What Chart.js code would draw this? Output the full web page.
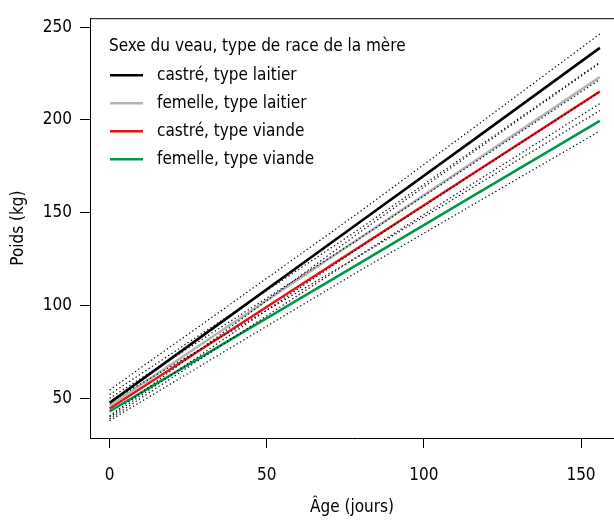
<!DOCTYPE html>
<html>
<head>
<meta charset="utf-8">
<script src="https://cdn.jsdelivr.net/npm/chart.js@4"></script>
<style>
html, body { margin: 0; padding: 0; background: #fff; }
#wrap { width: 614px; height: 520px; }
</style>
</head>
<body>
<div id="wrap"><canvas id="chart"></canvas></div>
<script>
// ages (days) at which the fitted lines and their bands are read
const ages = [0, 39, 78, 117, 156];

// castré, type laitier
const castreLaitier = [47.5, 95.2, 143.0, 190.7, 238.8];
const castreLaitierHi = [54.5, 101.4, 148.5, 197.2, 246.3];
const castreLaitierLo = [40.5, 89.0, 137.5, 184.2, 230.7];

// femelle, type laitier
const femelleLaitier = [46.0, 90.3, 134.5, 178.8, 223.1];
const femelleLaitierHi = [52.0, 95.7, 139.5, 185.2, 231.1];
const femelleLaitierLo = [40.0, 84.9, 129.5, 172.4, 215.1];

// castré, type viande
const castreViande = [44.5, 87.2, 129.9, 172.6, 215.3];
const castreViandeHi = [50.0, 92.1, 134.4, 178.0, 221.8];
const castreViandeLo = [39.0, 82.3, 125.4, 167.2, 208.8];

// femelle, type viande
const femelleViande = [43.0, 82.1, 121.2, 160.4, 199.5];
const femelleViandeHi = [48.0, 86.5, 125.2, 165.1, 205.0];
const femelleViandeLo = [38.0, 77.7, 117.2, 155.7, 194.0];

const xTicks = [0, 50, 100, 150];
const yTicks = [50, 100, 150, 200, 250];

const legendTitle = 'Sexe du veau, type de race de la mère';
const legendLabels = ['castré, type laitier', 'femelle, type laitier', 'castré, type viande', 'femelle, type viande'];
const lineColors = ['#000000', '#b4b4b4', '#e8121b', '#00964b'];

const fontFamily = "'Liberation Sans Narrow', 'DejaVu Sans Condensed', 'Open Sans', sans-serif";

function pts(vals) {
    return ages.map((a, i) => ({ x: a, y: vals[i] }));
}

const mains = [castreLaitier, femelleLaitier, castreViande, femelleViande];
const bands = [castreLaitierHi, castreLaitierLo, femelleLaitierHi, femelleLaitierLo,
               castreViandeHi, castreViandeLo, femelleViandeHi, femelleViandeLo];

const datasets = [];
mains.forEach((vals, i) => {
    datasets.push({
        label: legendLabels[i],
        data: pts(vals),
        borderColor: lineColors[i],
        borderWidth: 2.6,
        pointRadius: 0,
        order: 1
    });
});
bands.forEach(vals => {
    datasets.push({
        data: pts(vals),
        borderColor: '#000000',
        borderWidth: 1.2,
        borderDash: [1.3, 2.6],
        pointRadius: 0,
        order: 0
    });
});

const legendPlugin = {
    id: 'innerLegend',
    afterDraw(chart) {
        const ctx = chart.ctx;
        const a = chart.chartArea;
        ctx.save();
        // top edge of the box
        ctx.strokeStyle = '#000';
        ctx.lineWidth = 1;
        ctx.beginPath();
        ctx.moveTo(a.left, a.top + 0.5);
        ctx.lineTo(a.right, a.top + 0.5);
        ctx.stroke();

        ctx.font = '17px ' + fontFamily;
        ctx.fillStyle = '#000';
        ctx.textBaseline = 'middle';
        ctx.fillText(legendTitle, a.left + 19, a.top + 28);
        legendLabels.forEach((lab, i) => {
            const y = a.top + 57 + i * 28;
            ctx.strokeStyle = lineColors[i];
            ctx.lineWidth = 2.6;
            ctx.beginPath();
            ctx.moveTo(a.left + 20, y);
            ctx.lineTo(a.left + 53, y);
            ctx.stroke();
            ctx.fillText(lab, a.left + 67, y);
        });
        ctx.restore();
    }
};

new Chart(document.getElementById('chart').getContext('2d'), {
    type: 'line',
    data: { datasets: datasets },
    options: {
        responsive: true,
        maintainAspectRatio: false,
        animation: false,
        layout: { padding: { top: 15, right: 0, left: 0, bottom: 0 } },
        plugins: { legend: { display: false }, tooltip: { enabled: false } },
        scales: {
            x: {
                type: 'linear',
                min: -6.24,
                max: 160.5,
                afterFit: s => { s.height = 82; },
                afterBuildTicks: s => { s.ticks = xTicks.map(v => ({ value: v })); },
                grid: { drawOnChartArea: false, drawTicks: true, tickLength: 10, color: '#000' },
                border: { display: true, color: '#000', width: 1 },
                ticks: { color: '#000', padding: 17, maxRotation: 0, font: { family: fontFamily, size: 17 } },
                title: {
                    display: true, text: 'Âge (jours)', color: '#000',
                    padding: { top: 0, bottom: 2 },
                    font: { family: fontFamily, size: 17 }
                }
            },
            y: {
                type: 'linear',
                min: 28.6,
                max: 254.8,
                afterFit: s => { s.width = 90; },
                afterBuildTicks: s => { s.ticks = yTicks.map(v => ({ value: v })); },
                grid: { drawOnChartArea: false, drawTicks: true, tickLength: 10, color: '#000' },
                border: { display: true, color: '#000', width: 1 },
                ticks: { color: '#000', padding: 8, font: { family: fontFamily, size: 17 } },
                title: {
                    display: true, text: 'Poids (kg)', color: '#000',
                    padding: { top: 8, bottom: 0 },
                    font: { family: fontFamily, size: 17 }
                }
            }
        }
    },
    plugins: [legendPlugin]
});
</script>
</body>
</html>
